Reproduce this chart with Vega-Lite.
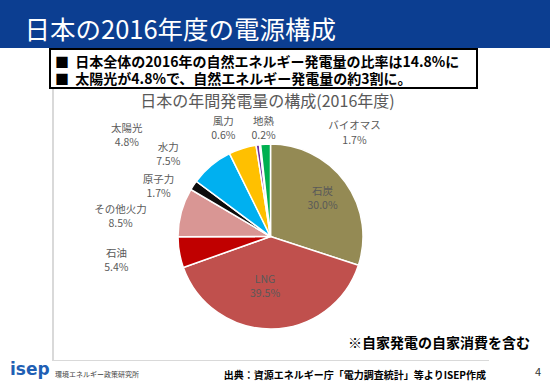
{
  "$schema": "https://vega.github.io/schema/vega-lite/v6.json",
  "padding": 0,
  "background": "white",
  "spacing": 0,
  "config": {
    "view": {"stroke": null},
    "concat": {"spacing": 0},
    "text": {"font": "Noto Sans CJK JP"},
    "mark": {"font": "Noto Sans CJK JP"}
  },
  "datasets": {
    "power": [
      {"source": "石炭", "share": 0.300, "label": "石炭\n30.0%", "idx": 1},
      {"source": "LNG", "share": 0.395, "label": "LNG\n39.5%", "idx": 2},
      {"source": "石油", "share": 0.054, "label": "石油\n5.4%", "idx": 3},
      {"source": "その他火力", "share": 0.085, "label": "その他火力\n8.5%", "idx": 4},
      {"source": "原子力", "share": 0.017, "label": "原子力\n1.7%", "idx": 5},
      {"source": "水力", "share": 0.075, "label": "水力\n7.5%", "idx": 6},
      {"source": "太陽光", "share": 0.048, "label": "太陽光\n4.8%", "idx": 7},
      {"source": "風力", "share": 0.006, "label": "風力\n0.6%", "idx": 8},
      {"source": "地熱", "share": 0.002, "label": "地熱\n0.2%", "idx": 9},
      {"source": "バイオマス", "share": 0.017, "label": "バイオマス\n1.7%", "idx": 10}
    ]
  },
  "vconcat": [
    {
      "width": 550, "height": 48,
      "view": {"fill": "#0C3E91", "stroke": null},
      "data": {"values": [{}]},
      "mark": {"type": "text", "text": "日本の2016年度の電源構成", "align": "left", "baseline": "middle", "dx": -250.5, "dy": 6.5, "fontSize": 25.5, "color": "white"}
    },
    {
      "hconcat": [
        {"width": 50, "height": 39, "data": {"values": []}, "mark": "point"},
        {
          "width": 427, "height": 39,
          "view": {"fill": "white", "stroke": "black", "strokeWidth": 2},
          "data": {"values": [{}]},
          "mark": {"type": "text", "text": ["■\u00a0\u00a0日本全体の2016年の自然エネルギー発電量の比率は14.8%に", "■\u00a0\u00a0太陽光が4.8%で、自然エネルギー発電量の約3割に。"], "align": "left", "baseline": "middle", "lineHeight": 17.5, "dx": -208.5, "dy": -5.9, "fontSize": 14, "fontWeight": "bold", "color": "black"}
        }
      ],
      "spacing": 0, "bounds": "flush"
    },
    {
      "hconcat": [
        {"width": 52, "height": 271, "data": {"values": []}, "mark": "point"},
        {"width": 1, "height": 271, "view": {"fill": "#D9D9D9", "stroke": null}, "data": {"values": []}, "mark": "point"},
        {
          "vconcat": [
            {
              "width": 435, "height": 24,
              "data": {"values": [{}]},
              "mark": {"type": "text", "text": "日本の年間発電量の構成(2016年度)", "baseline": "middle", "dx": -3, "dy": 1.3, "fontSize": 16, "color": "#595959"}
            },
            {
              "width": 435, "height": 247,
              "layer": [
                {
                  "data": {"name": "power"},
                  "encoding": {
                    "theta": {"field": "share", "type": "quantitative", "stack": true},
                    "order": {"field": "idx", "type": "quantitative"},
                    "detail": {"field": "source"}
                  },
                  "layer": [
                    {
                      "mark": {"type": "arc", "outerRadius": 92.5, "stroke": "white", "strokeWidth": 1.5},
                      "encoding": {
                        "color": {
                          "field": "source", "type": "nominal", "legend": null,
                          "scale": {
                            "domain": ["石炭", "LNG", "石油", "その他火力", "原子力", "水力", "太陽光", "風力", "地熱", "バイオマス"],
                            "range": ["#948A54", "#C0504D", "#C00000", "#D99694", "#0D0D0D", "#00B0F0", "#FFC000", "#7030A0", "#D9D9D9", "#00B050"]
                          }
                        }
                      }
                    },
                    {"mark": {"type": "text", "clip": true, "lineBreak": "\n", "lineHeight": 14, "radius": 65, "dx": -0.6, "dy": -6.65, "fontSize": 10.5, "color": "#595959"},
                     "encoding": {"text": {"condition": {"test": "datum.source === '石炭'", "field": "label"}, "value": ""}}},
                    {"mark": {"type": "text", "clip": true, "lineBreak": "\n", "lineHeight": 14, "radius": 50, "dx": -6.1, "dy": -6.25, "fontSize": 10.5, "color": "#595959"},
                     "encoding": {"text": {"condition": {"test": "datum.source === 'LNG'", "field": "label"}, "value": ""}}},
                    {"mark": {"type": "text", "clip": true, "lineBreak": "\n", "lineHeight": 14, "radius": 130, "dx": -26, "dy": -4.3, "fontSize": 10.5, "color": "#595959"},
                     "encoding": {"text": {"condition": {"test": "datum.source === '石油'", "field": "label"}, "value": ""}}},
                    {"mark": {"type": "text", "clip": true, "lineBreak": "\n", "lineHeight": 14, "radius": 130, "dx": -24.5, "dy": 7.85, "fontSize": 10.5, "color": "#595959"},
                     "encoding": {"text": {"condition": {"test": "datum.source === 'その他火力'", "field": "label"}, "value": ""}}},
                    {"mark": {"type": "text", "clip": true, "lineBreak": "\n", "lineHeight": 14, "radius": 130, "dx": -3.7, "dy": 15.15, "fontSize": 10.5, "color": "#595959"},
                     "encoding": {"text": {"condition": {"test": "datum.source === '原子力'", "field": "label"}, "value": ""}}},
                    {"mark": {"type": "text", "clip": true, "lineBreak": "\n", "lineHeight": 14, "radius": 130, "dx": -19, "dy": 11.55, "fontSize": 10.5, "color": "#595959"},
                     "encoding": {"text": {"condition": {"test": "datum.source === '水力'", "field": "label"}, "value": ""}}},
                    {"mark": {"type": "text", "clip": true, "lineBreak": "\n", "lineHeight": 14, "radius": 130, "dx": -104.3, "dy": 16, "fontSize": 10.5, "color": "#595959"},
                     "encoding": {"text": {"condition": {"test": "datum.source === '太陽光'", "field": "label"}, "value": ""}}},
                    {"mark": {"type": "text", "clip": true, "lineBreak": "\n", "lineHeight": 14, "radius": 130, "dx": -29.3, "dy": 14.2, "fontSize": 10.5, "color": "#595959"},
                     "encoding": {"text": {"condition": {"test": "datum.source === '風力'", "field": "label"}, "value": ""}}},
                    {"mark": {"type": "text", "clip": true, "lineBreak": "\n", "lineHeight": 14, "radius": 130, "dx": 7.7, "dy": 14.6, "fontSize": 10.5, "color": "#595959"},
                     "encoding": {"text": {"condition": {"test": "datum.source === '地熱'", "field": "label"}, "value": ""}}},
                    {"mark": {"type": "text", "clip": true, "lineBreak": "\n", "lineHeight": 14.7, "radius": 130, "dx": 90.9, "dy": 19.2, "fontSize": 10.5, "color": "#595959"},
                     "encoding": {"text": {"condition": {"test": "datum.source === 'バイオマス'", "field": "label"}, "value": ""}}}
                  ]
                },
                {
                  "data": {"values": [{}]},
                  "mark": {"type": "text", "text": "※自家発電の自家消費を含む", "fontSize": 14, "fontWeight": "bold", "color": "black", "align": "right", "baseline": "middle", "dx": 259.5, "dy": 107}
                }
              ]
            }
          ],
          "spacing": 0, "bounds": "flush"
        },
        {"width": 1, "height": 271, "view": {"fill": "#D9D9D9", "stroke": null}, "data": {"values": []}, "mark": "point"}
      ],
      "spacing": 0, "bounds": "flush"
    },
    {
      "hconcat": [
        {"width": 52, "height": 1, "data": {"values": []}, "mark": "point"},
        {"width": 437, "height": 1, "view": {"fill": "#D9D9D9", "stroke": null}, "data": {"values": []}, "mark": "point"}
      ],
      "spacing": 0, "bounds": "flush"
    },
    {
      "width": 550, "height": 18,
      "data": {"values": [{}]},
      "layer": [
        {"mark": {"type": "text", "text": "isep", "font": "DejaVu Sans", "fontWeight": "bold", "fontSize": 17, "color": "#1F5FB4", "align": "left", "baseline": "alphabetic", "dx": -265, "dy": 0}},
        {"mark": {"type": "text", "text": "環境エネルギー政策研究所", "fontSize": 7, "color": "#404040", "align": "left", "baseline": "middle", "dx": -220, "dy": 0.3}},
        {"mark": {"type": "text", "text": "出典：資源エネルギー庁「電力調査統計」等よりISEP作成", "fontSize": 10, "fontWeight": "bold", "color": "black", "align": "right", "baseline": "middle", "dx": 211, "dy": 0.8}},
        {"mark": {"type": "text", "text": "4", "fontSize": 11, "color": "#333333", "baseline": "middle", "dx": 263, "dy": -2}}
      ]
    }
  ]
}
